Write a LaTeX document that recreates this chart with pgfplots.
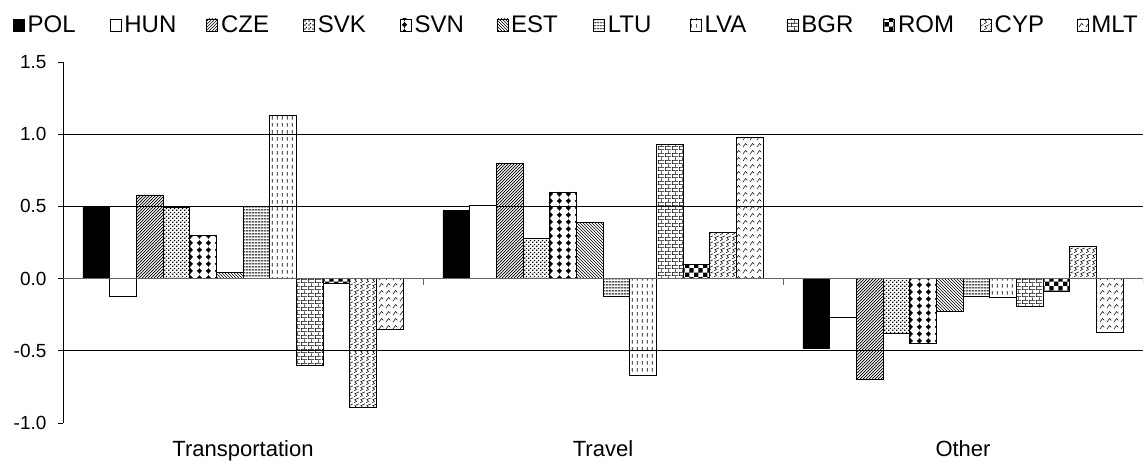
\documentclass[border=0pt]{standalone}
\usepackage{fontspec}
\setmainfont{Liberation Sans}
\usepackage{pgfplots}
\pgfplotsset{compat=1.18}
\usetikzlibrary{patterns}

% ---- fill patterns for the twelve countries ----
\pgfdeclarepatternformonly{neDense}{\pgfqpoint{-1pt}{-1pt}}{\pgfqpoint{4pt}{4pt}}{\pgfqpoint{3pt}{3pt}}{%
  \pgfsetlinewidth{0.7pt}\pgfpathmoveto{\pgfqpoint{0pt}{0pt}}\pgfpathlineto{\pgfqpoint{3.1pt}{3.1pt}}\pgfusepath{stroke}}
\pgfdeclarepatternformonly{nwLight}{\pgfqpoint{-1pt}{-1pt}}{\pgfqpoint{4pt}{4pt}}{\pgfqpoint{3pt}{3pt}}{%
  \pgfsetlinewidth{0.45pt}\pgfpathmoveto{\pgfqpoint{0pt}{3pt}}\pgfpathlineto{\pgfqpoint{3.1pt}{-0.1pt}}\pgfusepath{stroke}}
\pgfdeclarepatternformonly{spots}{\pgfqpoint{0pt}{0pt}}{\pgfqpoint{4pt}{4pt}}{\pgfqpoint{4pt}{4pt}}{%
  \pgfpathrectangle{\pgfqpoint{0.3pt}{0.3pt}}{\pgfqpoint{1.5pt}{1.5pt}}%
  \pgfpathrectangle{\pgfqpoint{2.3pt}{2.3pt}}{\pgfqpoint{1.5pt}{1.5pt}}\pgfusepath{fill}}
\pgfdeclarepatternformonly{diamonds}{\pgfqpoint{0pt}{0pt}}{\pgfqpoint{8.9pt}{7pt}}{\pgfqpoint{8.9pt}{7pt}}{%
  \pgfpathmoveto{\pgfqpoint{4.45pt}{0.7pt}}\pgfpathlineto{\pgfqpoint{7.1pt}{3.5pt}}%
  \pgfpathlineto{\pgfqpoint{4.45pt}{6.3pt}}\pgfpathlineto{\pgfqpoint{1.8pt}{3.5pt}}\pgfpathclose\pgfusepath{fill}%
  \pgfsetlinewidth{0.6pt}\pgfpathmoveto{\pgfqpoint{4.45pt}{0pt}}\pgfpathlineto{\pgfqpoint{4.45pt}{7pt}}\pgfusepath{stroke}}
\pgfdeclarepatternformonly{hlines}{\pgfqpoint{0pt}{0pt}}{\pgfqpoint{3pt}{3pt}}{\pgfqpoint{3pt}{3pt}}{%
  \pgfsetlinewidth{1.1pt}\pgfpathmoveto{\pgfqpoint{0pt}{1.5pt}}\pgfpathlineto{\pgfqpoint{3pt}{1.5pt}}\pgfusepath{stroke}}
\pgfdeclarepatternformonly{vdashes}{\pgfqpoint{0pt}{0pt}}{\pgfqpoint{5.3pt}{7pt}}{\pgfqpoint{5.3pt}{7pt}}{%
  \pgfsetlinewidth{0.8pt}\pgfpathmoveto{\pgfqpoint{2.65pt}{0.5pt}}\pgfpathlineto{\pgfqpoint{2.65pt}{4.5pt}}\pgfusepath{stroke}}
\pgfdeclarepatternformonly{brickrows}{\pgfqpoint{0pt}{0pt}}{\pgfqpoint{7pt}{6.8pt}}{\pgfqpoint{7pt}{6.8pt}}{%
  \pgfsetlinewidth{0.7pt}%
  \pgfpathmoveto{\pgfqpoint{0pt}{0.35pt}}\pgfpathlineto{\pgfqpoint{7pt}{0.35pt}}%
  \pgfpathmoveto{\pgfqpoint{0pt}{3.75pt}}\pgfpathlineto{\pgfqpoint{7pt}{3.75pt}}%
  \pgfpathmoveto{\pgfqpoint{0.35pt}{0pt}}\pgfpathlineto{\pgfqpoint{0.35pt}{3.4pt}}%
  \pgfpathmoveto{\pgfqpoint{3.85pt}{3.4pt}}\pgfpathlineto{\pgfqpoint{3.85pt}{6.8pt}}\pgfusepath{stroke}}
\pgfdeclarepatternformonly{checks}{\pgfqpoint{0pt}{0pt}}{\pgfqpoint{8.8pt}{8.8pt}}{\pgfqpoint{8.8pt}{8.8pt}}{%
  \pgfpathrectangle{\pgfqpoint{0pt}{0pt}}{\pgfqpoint{4.4pt}{4.4pt}}%
  \pgfpathrectangle{\pgfqpoint{4.4pt}{4.4pt}}{\pgfqpoint{4.4pt}{4.4pt}}\pgfusepath{fill}}
\pgfdeclarepatternformonly{zigzag}{\pgfqpoint{0pt}{0pt}}{\pgfqpoint{6pt}{6pt}}{\pgfqpoint{6pt}{6pt}}{%
  \pgfsetlinewidth{0.6pt}\pgfpathmoveto{\pgfqpoint{0pt}{0pt}}\pgfpathlineto{\pgfqpoint{3pt}{2pt}}%
  \pgfpathlineto{\pgfqpoint{1pt}{4pt}}\pgfpathlineto{\pgfqpoint{6pt}{6pt}}\pgfusepath{stroke}}
\pgfdeclarepatternformonly{hooks}{\pgfqpoint{0pt}{0pt}}{\pgfqpoint{7pt}{7pt}}{\pgfqpoint{7pt}{7pt}}{%
  \pgfsetlinewidth{0.6pt}\pgfpathmoveto{\pgfqpoint{1pt}{1pt}}\pgfpathlineto{\pgfqpoint{4pt}{5pt}}%
  \pgfpathlineto{\pgfqpoint{6pt}{3pt}}\pgfusepath{stroke}}

\pgfplotsset{
  cbar/.style={draw=black, line width=0.7pt,
    legend image code/.code={\draw[##1] (0pt,-6pt) rectangle (11pt,6pt);}},
}

\begin{document}
\begin{tikzpicture}
\begin{axis}[
  scale only axis, width=1080pt, height=361pt,
  xmin=-0.5, xmax=2.5, ymin=-1, ymax=1.5,
  ybar=0pt, bar width=26.67pt,
  axis lines*=left,
  x axis line style={draw=none},
  y axis line style={black, line width=0.8pt},
  xtick={0,1,2}, xticklabels={Transportation,Travel,Other},
  xtick style={draw=none},
  xticklabel style={font=\fontsize{22}{22}\selectfont, yshift=-9pt},
  ytick={-1,-0.5,0,0.5,1,1.5},
  ytick pos=left, tick align=outside, major tick length=5pt,
  ytick style={black, line width=0.8pt},
  /pgf/number format/assume math mode=true,
  yticklabel style={font=\fontsize{19}{19}\selectfont, xshift=-8pt,
    /pgf/number format/fixed, /pgf/number format/fixed zerofill,
    /pgf/number format/precision=1},
  extra y ticks={-0.5,0.5,1}, extra y tick labels={},
  extra y tick style={grid=major, major tick length=0pt},
  major grid style={black, line width=0.8pt},
  legend columns=12,
  legend style={at={(axis description cs:-0.0463,1.1025)}, anchor=west,
    draw=none, fill=none, inner sep=0pt, outer sep=0pt,
    font=\fontsize{24}{24}\selectfont,
    /tikz/every odd column/.append style={column sep=3pt},
    nodes={inner xsep=0pt, text width=82pt, align=left}},
]
% POL
\addplot[cbar, fill=black] coordinates {(0,0.50) (1,0.47) (2,-0.48)};
% HUN
\addplot[cbar, fill=white] coordinates {(0,-0.12) (1,0.51) (2,-0.27)};
% CZE
\addplot[cbar, pattern=neDense] coordinates {(0,0.58) (1,0.80) (2,-0.70)};
% SVK
\addplot[cbar, pattern=spots] coordinates {(0,0.49) (1,0.28) (2,-0.38)};
% SVN
\addplot[cbar, pattern=diamonds] coordinates {(0,0.30) (1,0.60) (2,-0.45)};
% EST
\addplot[cbar, pattern=nwLight] coordinates {(0,0.04) (1,0.39) (2,-0.23)};
% LTU
\addplot[cbar, pattern=hlines] coordinates {(0,0.50) (1,-0.12) (2,-0.12)};
% LVA
\addplot[cbar, pattern=vdashes] coordinates {(0,1.13) (1,-0.67) (2,-0.13)};
% BGR
\addplot[cbar, pattern=brickrows] coordinates {(0,-0.60) (1,0.93) (2,-0.19)};
% ROM
\addplot[cbar, pattern=checks] coordinates {(0,-0.03) (1,0.10) (2,-0.09)};
% CYP
\addplot[cbar, pattern=zigzag] coordinates {(0,-0.89) (1,0.32) (2,0.22)};
% MLT
\addplot[cbar, pattern=hooks] coordinates {(0,-0.35) (1,0.98) (2,-0.37)};
\legend{POL,HUN,CZE,SVK,SVN,EST,LTU,LVA,BGR,ROM,CYP,MLT}
% zero line and category separators
\draw[black!60, line width=0.9pt] (axis cs:-0.5,0) -- (axis cs:2.5,0);
\draw[black!60, line width=0.8pt] (axis cs:0.5,0) -- ++(0pt,-6pt);
\draw[black!60, line width=0.8pt] (axis cs:1.5,0) -- ++(0pt,-6pt);
\draw[black!60, line width=0.8pt] (axis cs:2.5,0) -- ++(0pt,-6pt);
\end{axis}
\pgfresetboundingbox
\path ([shift={(-63pt,-39pt)}]current axis.south west) rectangle ([shift={(3pt,62pt)}]current axis.north east);
\end{tikzpicture}
\end{document}
